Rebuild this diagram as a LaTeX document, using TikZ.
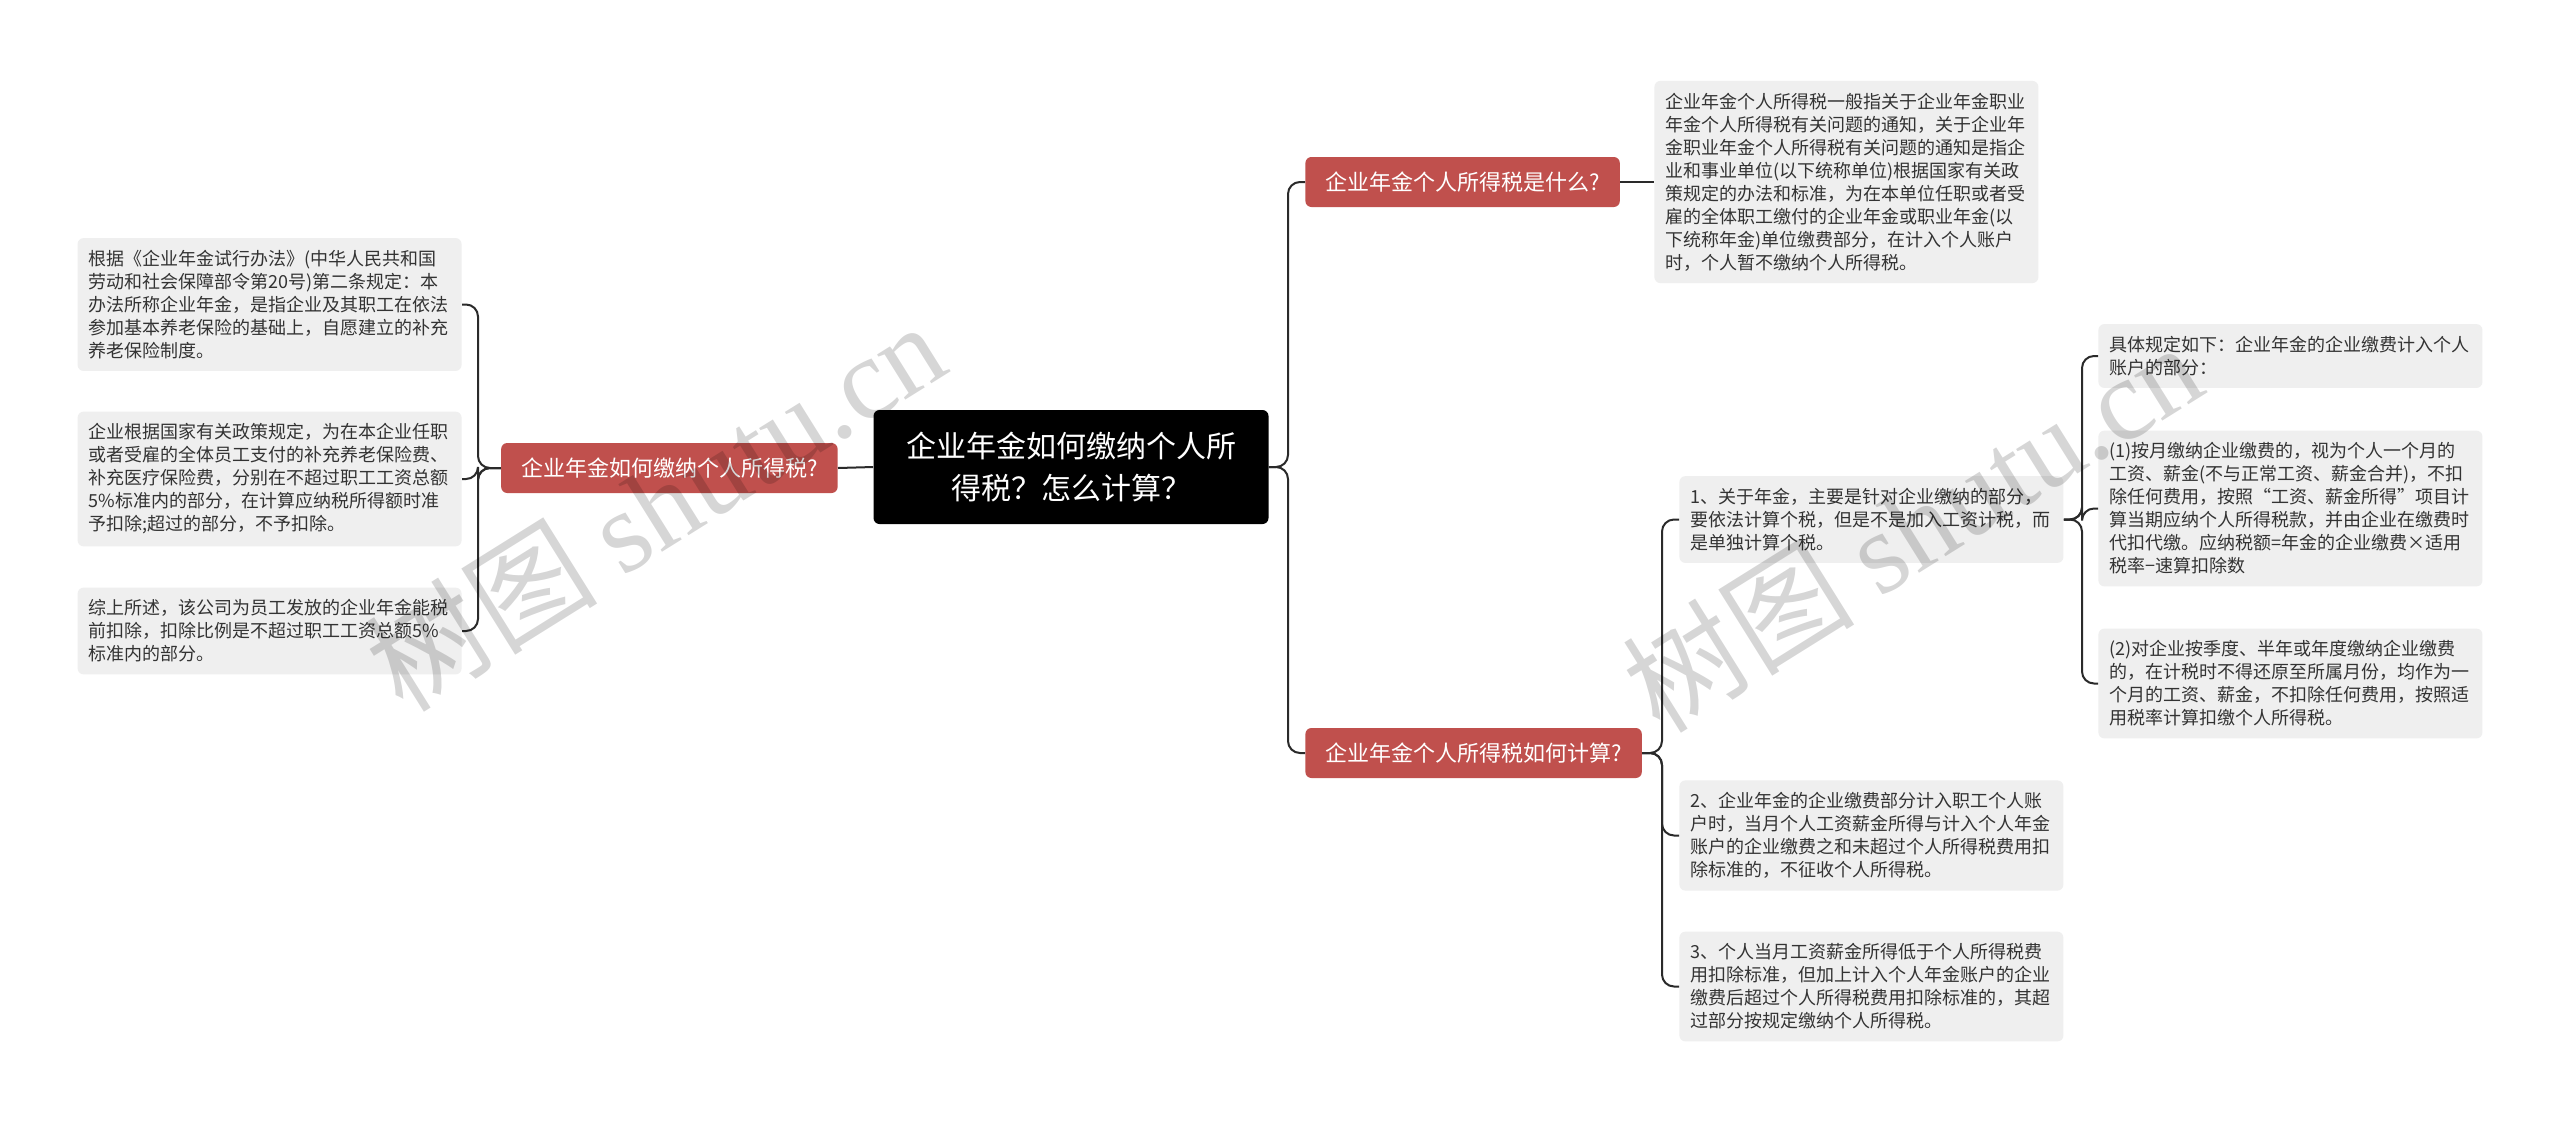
\documentclass[tikz,border=0pt]{standalone}
\usepackage{fontspec}
\setmainfont{Noto Sans CJK SC}
\newfontfamily\wmcjk{Noto Sans CJK SC}
\newfontfamily\wmlat{Liberation Serif}
\definecolor{rednode}{HTML}{C0504D}
\definecolor{boxgray}{HTML}{EFEFEF}
\definecolor{txtgray}{HTML}{333333}
\definecolor{linecol}{HTML}{2A2A2A}
\tikzset{
  rootbox/.style={fill=black, text=white, rounded corners=3pt, minimum width=197.5pt, minimum height=57pt,
    align=center, font=\fontsize{15pt}{21pt}\selectfont, inner sep=0pt},
  redbox/.style={fill=rednode, text=white, rounded corners=3pt, minimum height=25pt, inner xsep=10pt,
    inner ysep=0pt, font=\fontsize{11pt}{13pt}\selectfont},
  graybox/.style={fill=boxgray, text=txtgray, rounded corners=3pt, text width=181pt, align=left,
    inner xsep=5.5pt, inner ysep=6pt, font=\fontsize{9pt}{11.5pt}\selectfont},
  conn/.style={draw=linecol, line width=1pt, rounded corners=6pt},
  wmark/.style={text=black, text opacity=0.16, rotate=32, font=\fontsize{58pt}{60pt}\selectfont}
}
\begin{document}
\begin{tikzpicture}[x=0.5pt,y=-0.5pt]
\useasboundingbox (0,0) rectangle (2560,1121);
\fill[white] (0,0) rectangle (2560,1121);

% junction coordinates
\coordinate (jL) at (478,0);
\coordinate (jC) at (1288,0);
\coordinate (jR) at (1662,0);
\coordinate (jM) at (2082,0);

% root
\node[rootbox] (root) at (1071,467) {企业年金如何缴纳个人所\\得税？怎么计算？};

% left branch
\node[redbox, anchor=east] (L) at (838,468) {企业年金如何缴纳个人所得税?};
\node[graybox, anchor=east] (LB1) at (462,304.5) {根据《企业年金试行办法》(中华人民共和国\\劳动和社会保障部令第20号)第二条规定：本\\办法所称企业年金，是指企业及其职工在依法\\参加基本养老保险的基础上，自愿建立的补充\\养老保险制度。};
\node[graybox, anchor=east] (LB2) at (462,479) {企业根据国家有关政策规定，为在本企业任职\\或者受雇的全体员工支付的补充养老保险费、\\补充医疗保险费，分别在不超过职工工资总额\\5\%标准内的部分，在计算应纳税所得额时准\\予扣除;超过的部分，不予扣除。};
\node[graybox, anchor=east] (LB3) at (462,631) {综上所述，该公司为员工发放的企业年金能税\\前扣除，扣除比例是不超过职工工资总额5\%\\标准内的部分。};

% right branch 1
\node[redbox, anchor=west] (R1) at (1305,182) {企业年金个人所得税是什么?};
\node[graybox, anchor=west] (TR) at (1654,182) {企业年金个人所得税一般指关于企业年金职业\\年金个人所得税有关问题的通知，关于企业年\\金职业年金个人所得税有关问题的通知是指企\\业和事业单位(以下统称单位)根据国家有关政\\策规定的办法和标准，为在本单位任职或者受\\雇的全体职工缴付的企业年金或职业年金(以\\下统称年金)单位缴费部分，在计入个人账户\\时，个人暂不缴纳个人所得税。};

% right branch 2
\node[redbox, anchor=west] (R2) at (1305,753) {企业年金个人所得税如何计算?};
\node[graybox, anchor=west] (M1) at (1679,519.5) {1、关于年金，主要是针对企业缴纳的部分，\\要依法计算个税，但是不是加入工资计税，而\\是单独计算个税。};
\node[graybox, anchor=west] (M2) at (1679,835.5) {2、企业年金的企业缴费部分计入职工个人账\\户时，当月个人工资薪金所得与计入个人年金\\账户的企业缴费之和未超过个人所得税费用扣\\除标准的，不征收个人所得税。};
\node[graybox, anchor=west] (M3) at (1679,986.5) {3、个人当月工资薪金所得低于个人所得税费\\用扣除标准，但加上计入个人年金账户的企业\\缴费后超过个人所得税费用扣除标准的，其超\\过部分按规定缴纳个人所得税。};

\node[graybox, anchor=west] (F1) at (2098,356) {具体规定如下：企业年金的企业缴费计入个人\\账户的部分：};
\node[graybox, anchor=west] (F2) at (2098,508.5) {(1)按月缴纳企业缴费的，视为个人一个月的\\工资、薪金(不与正常工资、薪金合并)，不扣\\除任何费用，按照“工资、薪金所得”项目计\\算当期应纳个人所得税款，并由企业在缴费时\\代扣代缴。应纳税额=年金的企业缴费×适用\\税率−速算扣除数};
\node[graybox, anchor=west] (F3) at (2098,683.5) {(2)对企业按季度、半年或年度缴纳企业缴费\\的，在计税时不得还原至所属月份，均作为一\\个月的工资、薪金，不扣除任何费用，按照适\\用税率计算扣缴个人所得税。};

% connectors
\draw[conn] (root.west) -- (L.east);
\draw[conn] (L.west) -- (L.west -| jL) |- (LB1.east);
\draw[conn] (L.west) -- (L.west -| jL) |- (LB2.east);
\draw[conn] (L.west) -- (L.west -| jL) |- (LB3.east);

\draw[conn] (root.east) -- (root.east -| jC) |- (R1.west);
\draw[conn] (root.east) -- (root.east -| jC) |- (R2.west);
\draw[conn] (R1.east) -- (TR.west |- R1.east);

\draw[conn] (R2.east) -- (R2.east -| jR) |- (M1.west);
\draw[conn] (R2.east) -- (R2.east -| jR) |- (M2.west);
\draw[conn] (R2.east) -- (R2.east -| jR) |- (M3.west);

\draw[conn] (M1.east) -- (M1.east -| jM) |- (F1.west);
\draw[conn] (M1.east) -- (M1.east -| jM) |- (F2.west);
\draw[conn] (M1.east) -- (M1.east -| jM) |- (F3.west);

% watermarks
\node[wmark] (wm1) at (655,505) {{\wmcjk 树图} {\wmlat shutu.cn}};
\node[wmark] (wm2) at (1912,526) {{\wmcjk 树图} {\wmlat shutu.cn}};
\end{tikzpicture}
\end{document}
